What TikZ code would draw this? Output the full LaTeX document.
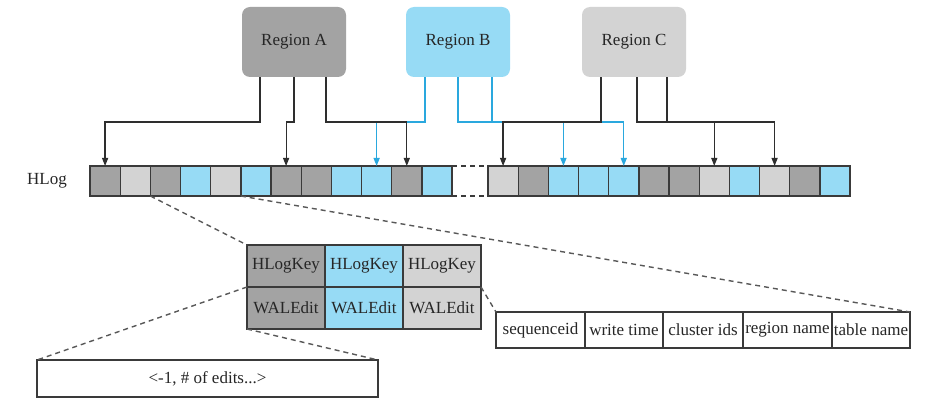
\documentclass[tikz,border=0pt]{standalone}
\usepackage{fontspec}
\setmainfont{Liberation Serif}
\usetikzlibrary{arrows.meta,positioning}
\definecolor{hldark}{HTML}{A3A3A3}
\definecolor{hllight}{HTML}{D3D3D3}
\definecolor{hlblue}{HTML}{97DBF5}
\definecolor{hledge}{HTML}{3A3A3A}
\definecolor{hlwire}{HTML}{2E2E2E}
\definecolor{hlcyan}{HTML}{2AA8DE}
\definecolor{hltext}{HTML}{262626}

\begin{document}
\begin{tikzpicture}[x=1pt, y=-1pt,
  txt/.style={font=\fontsize{17pt}{20pt}\selectfont, text=hltext},
  region/.style={txt, rounded corners=8pt, minimum width=104pt,
                 minimum height=70pt, inner sep=0pt},
  cell/.style={draw=hledge, line width=1.3pt, minimum width=30.17pt,
               minimum height=30pt, inner sep=0pt, outer sep=0pt},
  record/.style={txt, draw=hledge, line width=1.3pt, minimum width=78pt,
                 minimum height=42pt, inner sep=0pt, outer sep=0pt},
  field/.style={txt, draw=hledge, line width=1.1pt, fill=white,
                minimum height=36pt, inner sep=0pt, outer sep=0pt},
  wire/.style={draw=hlwire, line width=1.2pt,
               -{Triangle[length=8pt,width=6pt]}},
  cyanwire/.style={wire, draw=hlcyan, line width=1.4pt},
  gapline/.style={draw=hledge, line width=1.3pt, dash pattern=on 5pt off 4pt},
  zoomline/.style={draw=hledge!85, line width=1.4pt, dash pattern=on 5pt off 4pt},
]
  \useasboundingbox (0,0) rectangle (930,414);

  % Regions writing into the shared log.
  \node[region, fill=hldark] (regA) at (294,42) {Region A};
  \node[region, fill=hlblue] (regB) at (458,42) {Region B};
  \node[region, fill=hllight] (regC) at (634,42) {Region C};

  % HLog entries, two runs with a gap between them.
  \foreach \c [count=\i] in {hldark,hllight,hldark,hlblue,hllight,hlblue,
                             hldark,hldark,hlblue,hlblue,hldark,hlblue}
    \node[cell, fill=\c] (l\i) at ({90+(\i-0.5)*30.17},181) {};
  \foreach \c [count=\i] in {hllight,hldark,hlblue,hlblue,hlblue,hldark,
                             hldark,hllight,hlblue,hllight,hldark,hlblue}
    \node[cell, fill=\c] (r\i) at ({488+(\i-0.5)*30.17},181) {};
  \draw[gapline] (l12.north east) -- (r1.north west)
                 (l12.south east) -- (r1.south west);
  \node[txt, inner sep=0pt, left=23pt of l1] (hlog) {HLog};

  % Exit points and the common bus level.
  \coordinate (bus) at (0,122);
  \foreach \d [count=\k] in {-34,0,32}
    \coordinate (a\k) at ([xshift=\d pt]regA.south);
  \foreach \d [count=\k] in {-33,0,34}
    \coordinate (b\k) at ([xshift=\d pt]regB.south);
  \foreach \d [count=\k] in {-33,3,33}
    \coordinate (c\k) at ([xshift=\d pt]regC.south);

  % Region B edits.
  \draw[cyanwire] (b1) |- (bus -| l10.north) -- (l10.north);
  \draw[cyanwire] (b2) |- (bus -| r5.north) -- (r5.north);
  \draw[cyanwire, -] (b3) -- (b3 |- bus);
  \draw[cyanwire] (bus -| r3.north) -- (r3.north);

  % Region A edits.
  \draw[wire] (a1) |- (bus -| l1.north) -- (l1.north);
  \draw[wire] (a2) |- (bus -| l7.north) -- (l7.north);
  \draw[wire] (a3) |- (bus -| l11.north) -- (l11.north);

  % Region C edits.
  \draw[wire] (c1) |- (bus -| r1.north) -- (r1.north);
  \draw[wire] (c2) |- (bus -| r10.north) -- (r10.north);
  \draw[wire, -] (c3) -- (c3 |- bus);
  \draw[wire] (bus -| r8.north) -- (r8.north);

  % Zoomed views of one entry.
  \node[field, minimum width=89pt, anchor=west] (f1) at (496,330) {sequenceid};
  \node[field, minimum width=78pt, right=0pt of f1] (f2) {write time};
  \node[field, minimum width=80pt, right=0pt of f2] (f3) {cluster ids};
  \node[field, minimum width=89pt, right=0pt of f3] (f4) {region name};
  \node[field, minimum width=78pt, right=0pt of f4] (f5) {table name};
  \node[field, minimum width=341pt, minimum height=37pt] (edits)
    at (207.5,378.5) {<-1, \# of edits...>};

  \foreach \c/\x [count=\i] in {hldark/286,hlblue/364,hllight/442} {
    \node[record, fill=\c] (k\i) at (\x,266) {HLogKey};
    \node[record, fill=\c] (w\i) at (\x,308) {WALEdit};
  }

  \draw[zoomline] (l3.south west) -- (k1.north west);
  \draw[zoomline] (l6.south west) -- (f5.north east);
  \draw[zoomline] (k3.south east) -- (f1.north west);
  \draw[zoomline] (w1.north west) -- (edits.north west);
  \draw[zoomline] (w1.south west) -- (edits.north east);
\end{tikzpicture}
\end{document}
